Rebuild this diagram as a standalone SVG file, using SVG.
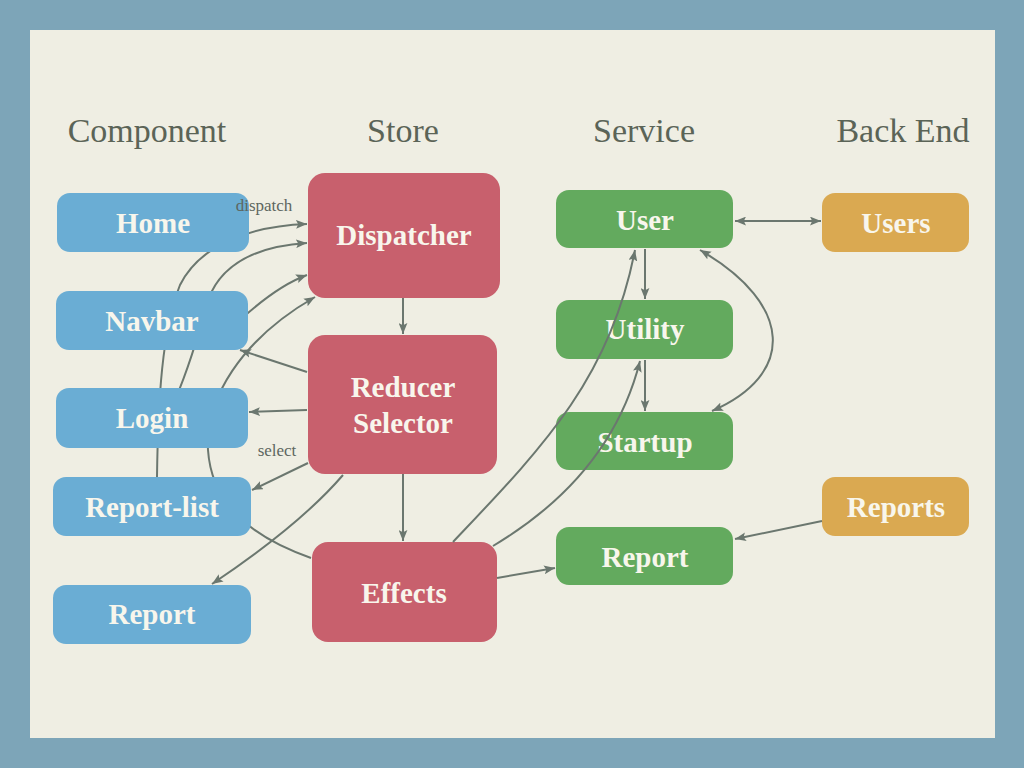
<svg xmlns="http://www.w3.org/2000/svg" width="1024" height="768" viewBox="0 0 1024 768">
<defs>
<style>
.hdr{font-family:"Liberation Serif","Times New Roman",serif;font-size:34px;fill:#5b6457;text-anchor:middle}
.lbl{font-family:"Liberation Serif","Times New Roman",serif;font-size:29px;font-weight:bold;fill:#f8f6ec;text-anchor:middle}
.sm{font-family:"Liberation Serif","Times New Roman",serif;font-size:17px;fill:#5d6660;text-anchor:middle}
.blue{fill:#6aadd4}
.red{fill:#c8606d}
.green{fill:#63aa5e}
.orange{fill:#daa951}
.con{fill:none;stroke:#6b776f;stroke-width:2}
.ae{marker-end:url(#ah)}
.ab{marker-start:url(#ah);marker-end:url(#ah)}
</style>
<marker id="ah" viewBox="0 0 10 8" refX="10" refY="4" markerWidth="11" markerHeight="9" markerUnits="userSpaceOnUse" orient="auto-start-reverse">
<path d="M0,0 L10,4 L0,8 L2,4 z" fill="#6b776f"/>
</marker>
</defs>
<rect x="0" y="0" width="1024" height="768" fill="#7da5b8"/>
<rect x="30" y="30" width="965" height="708" fill="#efeee3"/>
<g id="headers">
<text class="hdr" x="147" y="142">Component</text>
<text class="hdr" x="403" y="142">Store</text>
<text class="hdr" x="644" y="142">Service</text>
<text class="hdr" x="903" y="142">Back End</text>
</g>
<g id="dispatcher"><rect class="red" x="308" y="173" width="192" height="125" rx="17"/><text class="lbl" x="404" y="245">Dispatcher</text></g>
<g id="reducer"><rect class="red" x="308" y="335" width="189" height="139" rx="17"/><text class="lbl" x="403" y="397">Reducer</text><text class="lbl" x="403" y="433">Selector</text></g>
<g id="effects"><rect class="red" x="312" y="542" width="185" height="100" rx="16"/><text class="lbl" x="404" y="603">Effects</text></g>
<g id="svc-user"><rect class="green" x="556" y="190" width="177" height="58" rx="13"/><text class="lbl" x="645" y="230">User</text></g>
<g id="svc-utility"><rect class="green" x="556" y="300" width="177" height="59" rx="13"/><text class="lbl" x="645" y="339">Utility</text></g>
<g id="svc-startup"><rect class="green" x="556" y="412" width="177" height="58" rx="13"/><text class="lbl" x="645" y="452">Startup</text></g>
<g id="svc-report"><rect class="green" x="556" y="527" width="177" height="58" rx="13"/><text class="lbl" x="645" y="567">Report</text></g>
<g id="be-users"><rect class="orange" x="822" y="193" width="147" height="59" rx="13"/><text class="lbl" x="896" y="233">Users</text></g>
<g id="be-reports"><rect class="orange" x="822" y="477" width="147" height="59" rx="13"/><text class="lbl" x="896" y="517">Reports</text></g>
<g id="connectors">
<path class="con ae" d="M157,477 C158,400 162,330 180,285 C200,245 250,226 307,224"/>
<path class="con ae" d="M175,400 C190,365 200,330 208,300 C222,262 260,246 307,243"/>
<path class="con ae" d="M240,320 C262,300 285,283 307,275"/>
<path class="con ae" d="M311,558 C260,540 212,510 208,450 C205,400 240,340 315,297"/>
<path class="con ae" d="M403,298 L403,334"/>
<path class="con ae" d="M403,474 L403,541"/>
<path class="con ae" d="M307,372 L240,350"/>
<path class="con ae" d="M307,410 L249,412"/>
<path class="con ae" d="M308,463 L252,490"/>
<path class="con ae" d="M343,475 Q300,525 212,584"/>
<path class="con ae" d="M453,542 C540,450 610,380 635,250"/>
<path class="con ae" d="M493,546 C570,500 620,440 640,361"/>
<path class="con ae" d="M497,578 L555,568"/>
<path class="con ae" d="M645,249 L645,299"/>
<path class="con ae" d="M645,360 L645,411"/>
<path class="con ab" d="M700,250 C795,305 795,375 712,411"/>
<path class="con ab" d="M735,221 L821,221"/>
<path class="con ae" d="M822,521 L735,539"/>
</g>
<g id="home"><rect class="blue" x="57" y="193" width="192" height="59" rx="13"/><text class="lbl" x="153" y="233">Home</text></g>
<g id="navbar"><rect class="blue" x="56" y="291" width="192" height="59" rx="13"/><text class="lbl" x="152" y="331">Navbar</text></g>
<g id="login"><rect class="blue" x="56" y="388" width="192" height="60" rx="13"/><text class="lbl" x="152" y="428">Login</text></g>
<g id="report-list"><rect class="blue" x="53" y="477" width="198" height="59" rx="13"/><text class="lbl" x="152" y="517">Report-list</text></g>
<g id="report"><rect class="blue" x="53" y="585" width="198" height="59" rx="13"/><text class="lbl" x="152" y="624">Report</text></g>
<g id="connector-labels">
<text class="sm" x="264" y="211">dispatch</text>
<text class="sm" x="277" y="456">select</text>
</g>
</svg>
